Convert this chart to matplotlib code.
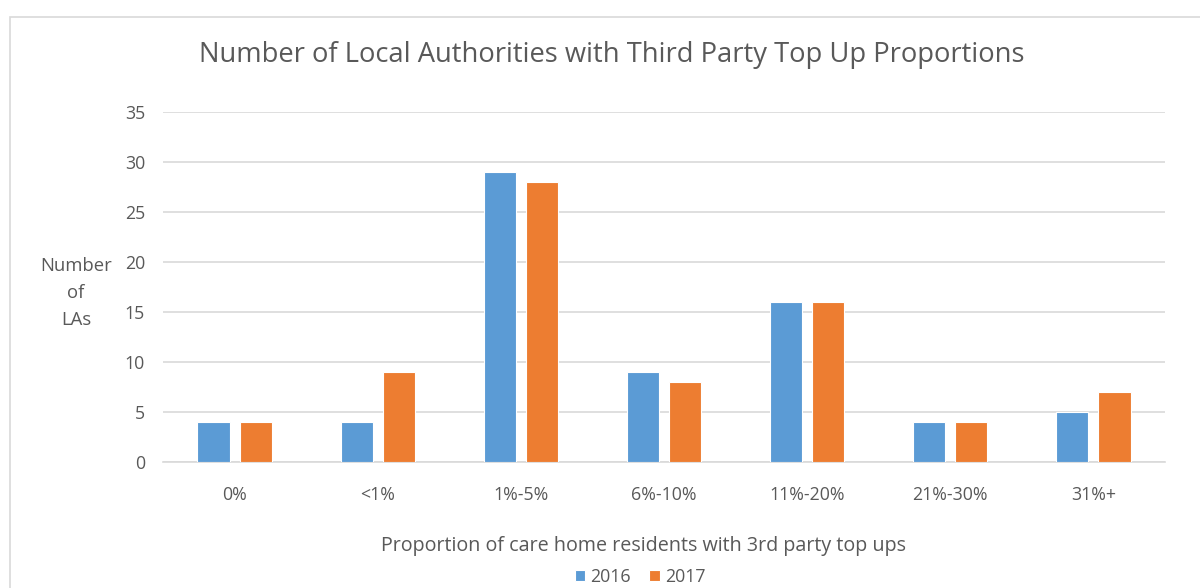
import matplotlib
matplotlib.use("Agg")
import matplotlib.pyplot as plt
import numpy as np
from matplotlib.patches import Rectangle

categories = ["0%", "<1%", "1%-5%", "6%-10%", "11%-20%", "21%-30%", "31%+"]
vals_2016 = [4, 4, 29, 9, 16, 4, 5]
vals_2017 = [4, 9, 28, 8, 16, 4, 7]
yticks = [0, 5, 10, 15, 20, 25, 30, 35]

BLUE = "#5B9BD5"
ORANGE = "#ED7D31"
GREY = "#595959"
GRID = "#D9D9D9"

plt.rcParams["font.family"] = ["Open Sans", "DejaVu Sans"]

fig = plt.figure(figsize=(12, 5.88), dpi=100)
W, H = 1200, 588

# outer chart border (cut off at right/bottom like the reference)
fig.patches.append(Rectangle((10 / W, -0.1), 1.2, 1 - 17 / H + 0.1,
                             transform=fig.transFigure, fill=False,
                             edgecolor="#D9D9D9", linewidth=1.2))

ax = fig.add_axes([163 / W, 1 - 462 / H, (1165 - 163) / W, (462 - 112) / H])
x = np.arange(len(categories))
bw = 0.225
off = 0.147
ax.bar(x - off, vals_2016, bw, color=BLUE, edgecolor="white", linewidth=0.8,
       label="2016", zorder=3)
ax.bar(x + off, vals_2017, bw, color=ORANGE, edgecolor="white", linewidth=0.8,
       label="2017", zorder=3)

ax.set_xlim(-0.5, len(categories) - 0.5)
ax.set_ylim(0, 35)
ax.set_yticks(yticks)
ax.set_xticks(x)
ax.set_xticklabels(categories)
ax.grid(axis="y", color=GRID, linewidth=1.2, zorder=0)
for s in ["top", "right", "left"]:
    ax.spines[s].set_visible(False)
ax.spines["bottom"].set_color(GRID)
ax.spines["bottom"].set_linewidth(1.2)
ax.tick_params(length=0, labelsize=12.8, colors=GREY)
ax.tick_params(axis="x", pad=17)
ax.tick_params(axis="y", pad=13)

fig.text(612 / W, 1 - 55 / H, "Number of Local Authorities with Third Party Top Up Proportions",
         ha="center", va="center", fontsize=19.7, color=GREY)
fig.text(76 / W, 1 - 293 / H, "Number\nof\nLAs", ha="center", va="center",
         fontsize=13.3, color=GREY, linespacing=1.65)
fig.text(643 / W, 1 - 546 / H, "Proportion of care home residents with 3rd party top ups",
         ha="center", va="center", fontsize=14.2, color=GREY)

leg = fig.legend(loc="center", bbox_to_anchor=(640 / W, 1 - 577 / H), ncol=2,
                 frameon=False, fontsize=12.8, handlelength=0.6, handleheight=0.6,
                 handletextpad=0.3, columnspacing=1.0, borderaxespad=0)
for t in leg.get_texts():
    t.set_color(GREY)

fig.savefig("out.png", dpi=100)
